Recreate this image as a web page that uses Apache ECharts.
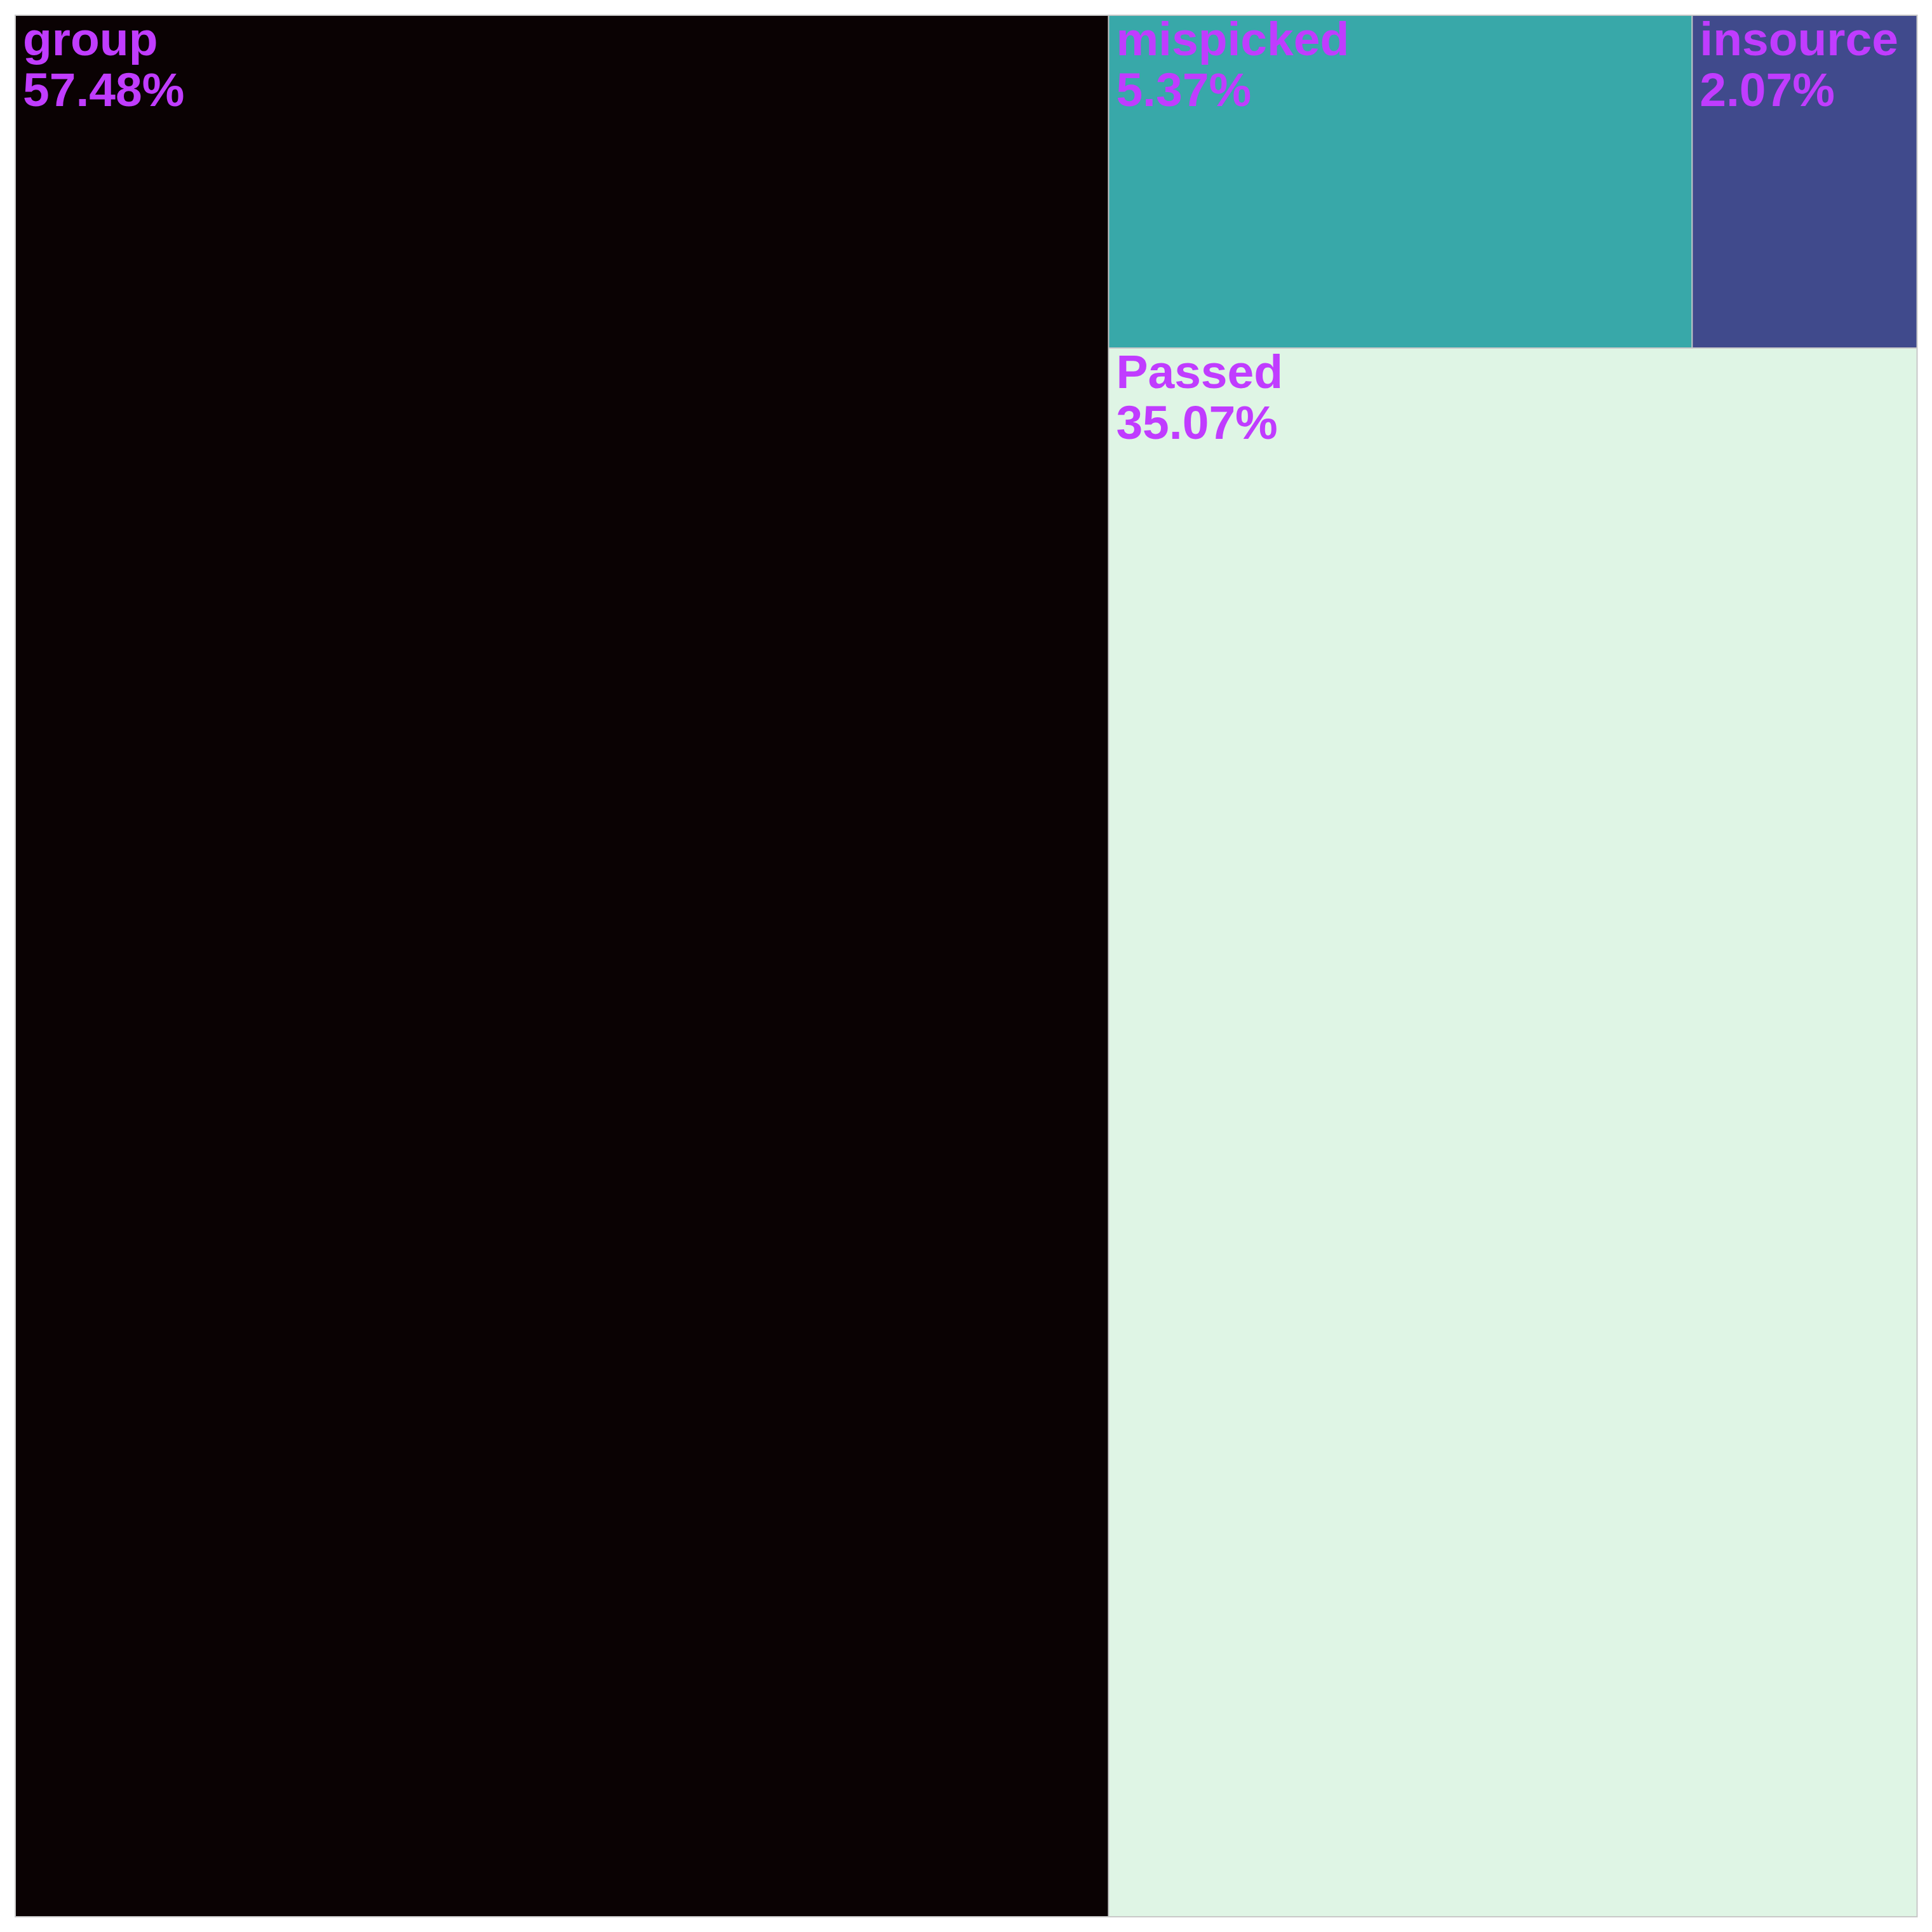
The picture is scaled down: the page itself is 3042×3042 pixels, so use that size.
<!DOCTYPE html>
<html>
<head>
<meta charset="utf-8">
<script src="https://cdn.jsdelivr.net/npm/echarts@6/dist/echarts.min.js"></script>
<style>
html,body{margin:0;padding:0;background:#fff;}
#chart{width:3042px;height:3042px;}
</style>
</head>
<body>
<div id="chart"></div>
<script>
const categories = ['group', 'mispicked', 'insource', 'Passed'];
const percentValues = [57.48, 5.37, 2.07, 35.07];
const tileColors = ['#0a0203', '#38a8a9', '#404a8c', '#dff5e5'];

const chart = echarts.init(document.getElementById('chart'), null, {renderer: 'canvas'});
const data = categories.map((name, i) => ({
  name: name,
  value: percentValues[i],
  itemStyle: { color: tileColors[i] }
}));

chart.setOption({
  animation: false,
  backgroundColor: '#ffffff',
  series: [{
    type: 'treemap',
    left: 23,
    top: 23,
    width: 2996.5,
    height: 2996,
    sort: false,
    roam: false,
    nodeClick: false,
    breadcrumb: { show: false },
    itemStyle: {
      borderColor: '#c8c8c8',
      borderWidth: 1,
      gapWidth: 0
    },
    label: {
      show: true,
      position: 'insideTopLeft',
      distance: 0,
      padding: [1, 0, 0, 11],
      color: '#c03cff',
      fontFamily: 'Liberation Sans',
      fontWeight: 'bold',
      fontSize: 75,
      lineHeight: 80,
      formatter: function (p) { return p.name + '\n' + p.value.toFixed(2) + '%'; }
    },
    upperLabel: { show: false },
    data: data
  }]
});
</script>
</body>
</html>
